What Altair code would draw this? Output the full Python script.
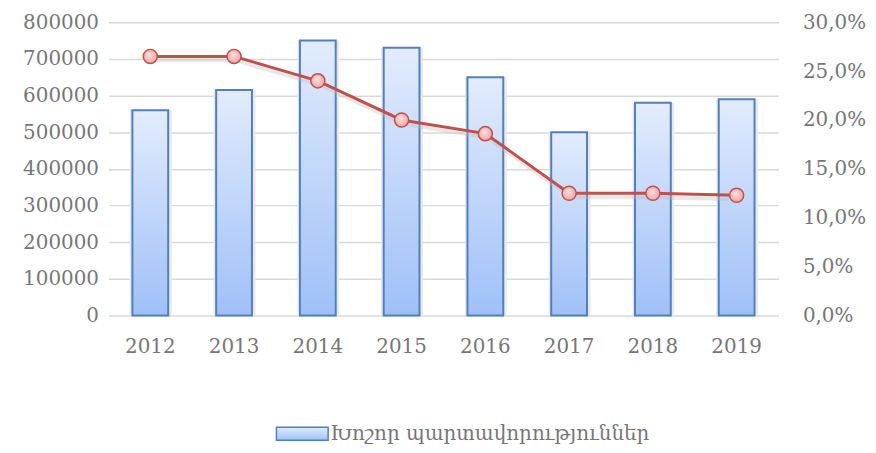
import altair as alt
import pandas as pd

years = ["2012", "2013", "2014", "2015", "2016", "2017", "2018", "2019"]
large_taxpayers = [560000, 615000, 750000, 730000, 650000, 500000, 580000, 590000]
share = [0.265, 0.265, 0.240, 0.200, 0.186, 0.125, 0.125, 0.123]
series_name = "Խոշոր պարտավորություններ"
left_ticks = [0, 100000, 200000, 300000, 400000, 500000, 600000, 700000, 800000]
right_ticks = [0, 0.05, 0.10, 0.15, 0.20, 0.25, 0.30]

df = pd.DataFrame({"year": years, "value": large_taxpayers, "share": share,
                   "series": [series_name] * len(years)})

FONT = "DejaVu Serif"
TXT = "#767676"
GRID = "#d9d9d9"
FS = 20

x_enc = alt.X("year:N", title=None, sort=years,
              scale=alt.Scale(paddingInner=0, paddingOuter=0),
              axis=alt.Axis(labelAngle=0, ticks=False, domain=False, grid=False,
                            labelPadding=21, labelFontSize=FS, labelColor=TXT,
                            labelFont=FONT))

y_left = alt.Y("value:Q", title=None,
               scale=alt.Scale(domain=[0, 800000], nice=False),
               axis=alt.Axis(values=left_ticks, format="d", ticks=False, domain=False,
                             grid=True, gridColor=GRID, gridWidth=1.5,
                             labelPadding=10, labelFontSize=FS, labelColor=TXT,
                             labelFont=FONT))

bar_grad = alt.Gradient(gradient="linear", x1=0, x2=0, y1=0, y2=1,
                        stops=[alt.GradientStop(color="#e2ecfd", offset=0),
                               alt.GradientStop(color="#9fc0f7", offset=1)])

shadow = alt.Chart(df).mark_bar(size=42, color="#e9e9e9", xOffset=0.5).encode(
    x=x_enc, y=y_left)

bars = alt.Chart(df).mark_bar(size=36, fill=bar_grad, strokeWidth=2, strokeOpacity=1,
                              fillOpacity=1).encode(
    x=x_enc, y=y_left,
    stroke=alt.Stroke("series:N", title=None,
                      scale=alt.Scale(range=["#4f81bd"]),
                      legend=alt.Legend(orient="none", legendX=181, legendY=400,
                                        symbolType="M-2,-0.5H2V0.5H-2Z",
                                        symbolSize=676, symbolFillColor="#b9d0f6",
                                        symbolStrokeWidth=1.5, symbolOpacity=1,
                                        labelFontSize=FS, labelColor=TXT,
                                        labelFont=FONT, labelOffset=14,
                                        labelLimit=500)))

y_right = alt.Y("share:Q", title=None,
                scale=alt.Scale(domain=[0, 0.30], nice=False),
                axis=alt.Axis(orient="right", values=right_ticks, ticks=False,
                              domain=False, grid=False,
                              labelExpr="replace(format(datum.value, '.1%'), '.', ',')",
                              labelPadding=24, labelFontSize=FS, labelColor=TXT,
                              labelFont=FONT))

line_shadow = alt.Chart(df).mark_line(color="#bdbdbd", strokeWidth=4, opacity=0.35,
                                      xOffset=2, yOffset=4).encode(x=x_enc, y=y_right)

line = alt.Chart(df).mark_line(color="#c0504d", strokeWidth=3).encode(x=x_enc, y=y_right)

pt_grad = alt.Gradient(gradient="radial", x1=0.4, y1=0.35, x2=0.5, y2=0.5, r1=0, r2=0.6,
                       stops=[alt.GradientStop(color="#fde2e2", offset=0),
                              alt.GradientStop(color="#ee9c9a", offset=1)])

points = alt.Chart(df).mark_point(filled=True, size=200, shape="circle", fill=pt_grad,
                                  stroke="#c0504d", strokeWidth=1.5, opacity=1,
                                  fillOpacity=1).encode(x=x_enc, y=y_right)

left_layer = alt.layer(shadow, bars)
right_layer = alt.layer(line_shadow, line, points)

chart = alt.layer(left_layer, right_layer).resolve_scale(y="independent").properties(
    width=674, height=295,
    autosize=alt.AutoSizeParams(type="none"),
    padding={"left": 101, "top": 13, "right": 90, "bottom": 129},
).configure(font=FONT).configure_view(stroke=None)

chart.save("out.html", embed_options={"renderer": "svg", "actions": False})
